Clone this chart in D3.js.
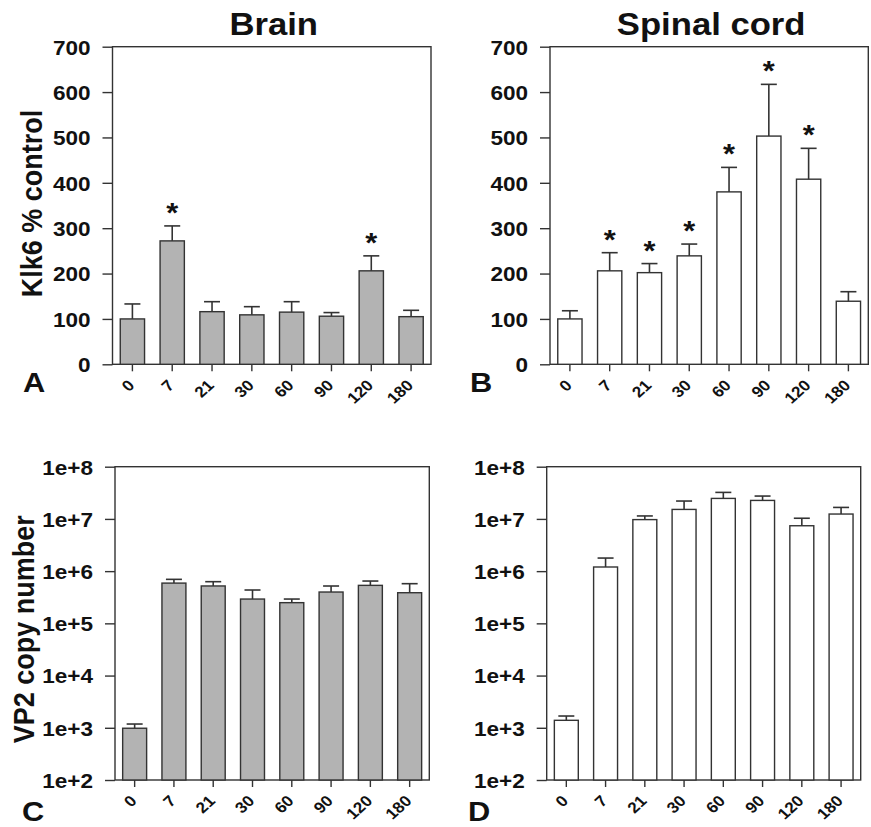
<!DOCTYPE html>
<html>
<head>
<meta charset="utf-8">
<script src="https://cdn.jsdelivr.net/npm/d3@7"></script>
<style>
  html, body { margin: 0; padding: 0; background: #fff; }
  svg { display: block; }
  text { font-family: "Liberation Sans", Arial, Helvetica, sans-serif; font-weight: bold; fill: #111; }
</style>
</head>
<body>
<svg id="chart" width="871" height="827"></svg>
<script>
// ---------------- data ----------------
const days = ["0", "7", "21", "30", "60", "90", "120", "180"];

const brainKlk6      = [100, 272, 116, 109, 115, 106, 206, 105];
const brainKlk6Err   = [33, 33, 22, 18, 23, 8, 33, 14];
const brainKlk6Sig   = [false, true, false, false, false, false, true, false];

const spinalKlk6     = [100, 206, 202, 239, 380, 503, 408, 139];
const spinalKlk6Err  = [18, 40, 20, 26, 54, 114, 68, 21];
const spinalKlk6Sig  = [false, true, true, true, true, true, true, false];

const brainVP2       = [980, 590000, 520000, 292000, 249000, 398000, 534000, 386000];
const brainVP2Err    = [200, 106000, 108000, 143000, 43000, 121000, 112000, 189000];

const spinalVP2      = [1390, 1200000, 9700000, 15200000, 24700000, 22600000, 7400000, 12400000];
const spinalVP2Err   = [290, 580000, 1700000, 6800000, 7500000, 4800000, 2900000, 4200000];

const klk6Ticks = [0, 100, 200, 300, 400, 500, 600, 700];
const vp2Ticks  = [1e2, 1e3, 1e4, 1e5, 1e6, 1e7, 1e8];

const titles = ["Brain", "Spinal cord"];
const yLabels = ["Klk6 % control", "VP2 copy number"];
const panelLetters = ["A", "B", "C", "D"];

// ---------------- drawing ----------------
const svg = d3.select("#chart");
const SX = 1.1; // horizontal stretch of text as in the reference
const stroke = "#333333";

const panels = [
  { box: [112.5, 431, 46.7, 364.3], vals: brainKlk6, err: brainKlk6Err, sig: brainKlk6Sig, fill: "#b3b3b3", log: false },
  { box: [550, 868.3, 46.7, 364.3], vals: spinalKlk6, err: spinalKlk6Err, sig: spinalKlk6Sig, fill: "#ffffff", log: false },
  { box: [115, 429.3, 466.7, 780], vals: brainVP2, err: brainVP2Err, sig: null, fill: "#b3b3b3", log: true },
  { box: [546.7, 860.7, 466.7, 780], vals: spinalVP2, err: spinalVP2Err, sig: null, fill: "#ffffff", log: true }
];

panels.forEach((p, pi) => {
  const [L, R, T, B] = p.box;
  const g = svg.append("g");
  const x = d3.scaleBand().domain(days).range([L, R]).paddingInner(0.39).paddingOuter(0.195);
  const y = p.log
    ? d3.scaleLog().domain([1e2, 1e8]).range([B, T])
    : d3.scaleLinear().domain([0, 700]).range([B, T]);
  const base = p.log ? 1e2 : 0;

  // frame
  g.append("rect").attr("x", L).attr("y", T).attr("width", R - L).attr("height", B - T)
    .attr("fill", "none").attr("stroke", stroke).attr("stroke-width", 1.4);

  // y axis
  const yAxis = d3.axisLeft(y)
    .tickValues(p.log ? vp2Ticks : klk6Ticks)
    .tickSize(10).tickSizeOuter(0)
    .tickFormat(p.log ? (d => "1e+" + Math.round(Math.log10(d))) : d3.format("d"));
  const ya = g.append("g").attr("transform", `translate(${L},0)`).call(yAxis);
  ya.attr("font-size", null).attr("font-family", null);
  ya.select(".domain").remove();
  ya.selectAll(".tick line").attr("stroke", stroke).attr("stroke-width", 1.4);
  ya.selectAll(".tick text")
    .attr("x", null).attr("dy", null)
    .attr("font-size", 20.5)
    .attr("transform", `translate(-22,7.3) scale(${SX},1)`)
    .attr("text-anchor", "end");

  // x axis
  const xAxis = d3.axisBottom(x).tickSize(7).tickSizeOuter(0);
  const xa = g.append("g").attr("transform", `translate(0,${B})`).call(xAxis);
  xa.attr("font-size", null).attr("font-family", null);
  xa.select(".domain").remove();
  xa.selectAll(".tick line").attr("stroke", stroke).attr("stroke-width", 1.4);
  xa.selectAll(".tick text")
    .attr("y", null).attr("dy", null)
    .attr("font-size", 15.5)
    .attr("transform", `translate(3,22) scale(${SX},1) rotate(-45)`)
    .attr("text-anchor", "end");

  // bars
  g.selectAll("rect.bar").data(p.vals).join("rect").attr("class", "bar")
    .attr("x", (d, i) => x(days[i]))
    .attr("y", d => y(d))
    .attr("width", x.bandwidth())
    .attr("height", d => y(base) - y(d))
    .attr("fill", p.fill).attr("stroke", stroke).attr("stroke-width", 1.4);

  // error bars
  const capW = 16;
  p.vals.forEach((v, i) => {
    const cx = x(days[i]) + x.bandwidth() / 2;
    const top = y(v + p.err[i]);
    g.append("line").attr("x1", cx).attr("x2", cx).attr("y1", y(v)).attr("y2", top)
      .attr("stroke", stroke).attr("stroke-width", 1.6);
    g.append("line").attr("x1", cx - capW / 2).attr("x2", cx + capW / 2).attr("y1", top).attr("y2", top)
      .attr("stroke", stroke).attr("stroke-width", 1.6);
    if (p.sig && p.sig[i]) {
      g.append("text").text("*")
        .attr("transform", `translate(${cx},${top - 4}) scale(${SX},1)`)
        .attr("text-anchor", "middle")
        .attr("font-size", 28);
    }
  });

  // titles (top row)
  if (pi < 2) {
    g.append("text").text(titles[pi])
      .attr("transform", `translate(${(L + R) / 2 + 2},35) scale(${SX},1)`)
      .attr("text-anchor", "middle").attr("font-size", 31.5);
  }
  // y labels (left column)
  if (pi === 0) {
    g.append("text").text(yLabels[0])
      .attr("transform", `translate(42,${(T + B) / 2 - 2}) scale(${SX},1) rotate(-90)`)
      .attr("text-anchor", "middle").attr("font-size", 27);
  }
  if (pi === 2) {
    g.append("text").text(yLabels[1])
      .attr("transform", `translate(34,${(T + B) / 2 + 6}) scale(${SX},1) rotate(-90)`)
      .attr("text-anchor", "middle").attr("font-size", 27);
  }
  // panel letters
  const letterPos = [[23, 392], [470, 392], [22, 821], [468, 821]];
  g.append("text").text(panelLetters[pi])
    .attr("transform", `translate(${letterPos[pi][0]},${letterPos[pi][1]}) scale(${SX},1)`)
    .attr("font-size", 28);
});
</script>
</body>
</html>
